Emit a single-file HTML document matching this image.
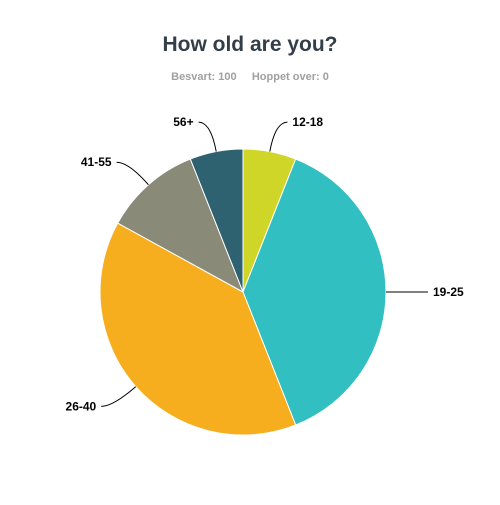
<!DOCTYPE html>
<html><head><meta charset="utf-8"><style>
body{margin:0;background:#fff;width:500px;height:500px;overflow:hidden;font-family:"Liberation Sans",sans-serif}
</style></head><body>
<svg width="500" height="500">
<text x="250" y="51" text-anchor="middle" font-size="21" font-weight="bold" fill="#333e48">How old are you?</text>
<text x="250" y="80" text-anchor="middle" font-size="11" font-weight="bold" fill="#a0a0a0">Besvart: 100 &#160;&#160;&#160; Hoppet over: 0</text>
<g id="slices"></g>
<g id="labels"></g>
</svg>
<script>
const categories=["12-18","19-25","26-40","41-55","56+"];
const values=[6,38,39,11,6];
const colors=["#cfd628","#32bfc1","#f6ae1e","#8a8a78","#2e6270"];
const cx=243,cy=292,r=143;
const ns="http://www.w3.org/2000/svg";
const total=values.reduce((a,b)=>a+b,0);
const sg=document.getElementById("slices"),lg=document.getElementById("labels");
function pt(a,rr){return [cx+rr*Math.sin(a),cy-rr*Math.cos(a)];}
let acc=0;
values.forEach((v,i)=>{
  const a0=acc/total*2*Math.PI;acc+=v;const a1=acc/total*2*Math.PI;
  const p0=pt(a0,r),p1=pt(a1,r);
  const path=document.createElementNS(ns,"path");
  path.setAttribute("d",`M${cx},${cy}L${p0[0]},${p0[1]}A${r},${r} 0 ${a1-a0>Math.PI?1:0} 1 ${p1[0]},${p1[1]}Z`);
  path.setAttribute("fill",colors[i]);path.setAttribute("stroke","#fff");path.setAttribute("stroke-width","1");
  
  
  sg.appendChild(path);
  const am=(a0+a1)/2;
  const e=pt(am,r),m=pt(am,r+30);
  const right=Math.sin(am)>=0;
  const ex=m[0]+(right?12:-12);
  const line=document.createElementNS(ns,"path");
  line.setAttribute("d",`M${e[0]},${e[1]}Q${m[0]},${m[1]} ${ex},${m[1]}`);
  line.setAttribute("fill","none");line.setAttribute("stroke","#000");line.setAttribute("stroke-width","1");
  
  
  lg.appendChild(line);
  const t=document.createElementNS(ns,"text");
  t.setAttribute("x",ex+(right?5:-5));t.setAttribute("y",m[1]+4);
  t.setAttribute("text-anchor",right?"start":"end");
  t.setAttribute("font-size","12");t.setAttribute("font-weight","bold");t.setAttribute("fill","#000");
  t.textContent=categories[i];
  
  
  lg.appendChild(t);
});
</script>
</body></html>
